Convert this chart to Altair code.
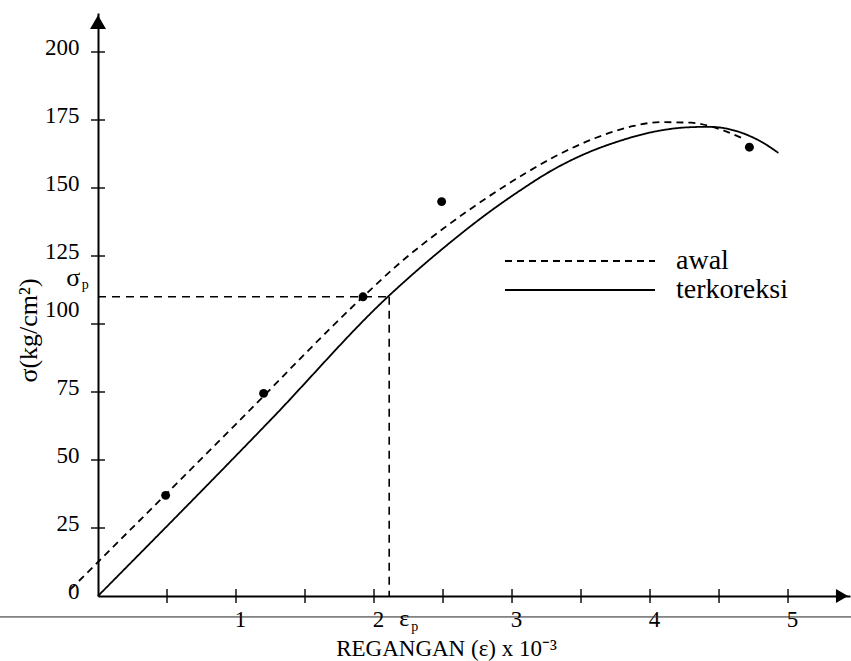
import altair as alt
import pandas as pd

FONT = "Liberation Serif"

# Measured test points: strain (x 10^-3) and stress (kg/cm^2)
point_strain = [0.49, 1.20, 1.92, 2.49, 4.72]
point_stress = [37.0, 74.5, 110.0, 145.0, 165.0]

# Initial stress-strain curve ("awal")
awal_strain = [-0.20, 0.00, 1.00, 1.92, 2.20, 2.50, 2.82, 3.10, 3.30, 3.60,
               3.88, 4.07, 4.30, 4.42, 4.55, 4.67]
awal_stress = [2.4, 12.5, 63.2, 110.0, 123.0, 135.0, 146.5, 155.5, 161.3, 168.3,
               172.8, 174.2, 174.0, 172.9, 170.8, 168.3]

# Corrected stress-strain curve ("terkoreksi")
kor_strain = [0.00, 1.25, 2.10, 2.33, 2.50, 2.82, 3.05, 3.30, 3.54, 3.78,
              4.02, 4.27, 4.43, 4.60, 4.70, 4.82, 4.93]
kor_stress = [0.0, 64.7, 110.0, 120.5, 127.8, 140.6, 148.8, 156.8, 162.8, 167.3,
              170.6, 172.3, 172.5, 171.3, 169.6, 166.6, 162.9]

series_names = ["awal", "terkoreksi"]

# Proportional limit
sigma_p = 110.0
eps_p = 2.11

# Axis ticks and labels
x_tick_values = [0.5, 1.0, 1.5, 2.0, 2.5, 3.0, 3.5, 4.0, 4.5, 5.0]
x_label_values = [1, 2, 3, 4, 5]
y_tick_values = [25, 50, 75, 100, 125, 150, 175, 200]
y_label_values = [0, 25, 50, 75, 100, 125, 150, 175, 200]

# ---------------------------------------------------------------------------
x_scale = alt.Scale(domain=[0, 5.449], nice=False, zero=False)
y_scale = alt.Scale(domain=[0, 214.34], nice=False, zero=False)

x_axis = alt.Axis(
    values=x_label_values, format="d", grid=False, ticks=False, tickSize=0,
    domainColor="black", domainWidth=2, labelFlush=False,
    labelFont=FONT, labelFontSize=23, labelColor="black",
    labelPadding=12, labelOffset=4,
    title="REGANGAN (ε) x 10⁻³", titleFont=FONT, titleFontSize=23,
    titleFontWeight="normal", titleColor="black",
    titleX=348, titleY=59, titleAlign="center", titleBaseline="alphabetic",
)
y_axis = alt.Axis(
    values=y_label_values, format="d", grid=False, ticks=False, tickSize=0,
    domainColor="black", domainWidth=2, labelFlush=False,
    labelFont=FONT, labelFontSize=23, labelColor="black", labelPadding=19,
    labelOffset={"condition": {"test": "datum.value === 100", "value": -15}, "value": -5},
    title="σ(kg/cm²)", titleFont=FONT, titleFontSize=26,
    titleFontWeight="normal", titleColor="black", titleAngle=-90,
    titleX=-62, titleY=317, titleAlign="center", titleBaseline="alphabetic",
)


def X(field):
    return alt.X(field, type="quantitative", scale=x_scale, axis=x_axis)


def Y(field):
    return alt.Y(field, type="quantitative", scale=y_scale, axis=y_axis)


curves = pd.DataFrame({
    "strain": awal_strain + kor_strain,
    "stress": awal_stress + kor_stress,
    "series": [series_names[0]] * len(awal_strain) + [series_names[1]] * len(kor_strain),
})
points = pd.DataFrame({"strain": point_strain, "stress": point_stress})

# stress-strain curves with a dash legend
curve_layer = alt.Chart(curves).mark_line(
    color="black", strokeWidth=1.8, interpolate="monotone"
).encode(
    x=X("strain"),
    y=Y("stress"),
    strokeDash=alt.StrokeDash(
        "series:N",
        scale=alt.Scale(domain=series_names, range=[[7, 5], [1, 0]]),
        legend=alt.Legend(
            title=None, orient="none", legendX=406, legendY=234,
            symbolType="stroke", symbolSize=22500, symbolStrokeWidth=1.8,
            symbolStrokeColor="black", clipHeight=28, rowPadding=1, padding=0,
            labelFont=FONT, labelFontSize=28, labelColor="black", labelOffset=20,
        ),
    ),
)

point_layer = alt.Chart(points).mark_circle(size=80, color="black", opacity=1).encode(
    x=X("strain"), y=Y("stress")
)

# dashed guides to the proportional limit
guides = pd.DataFrame({
    "x": [0.0, eps_p], "x2": [eps_p, eps_p],
    "y": [sigma_p, sigma_p], "y2": [sigma_p, 0.0],
})
guide_layer = alt.Chart(guides).mark_rule(
    color="black", strokeWidth=1.6, strokeDash=[8, 6]
).encode(x=X("x"), x2="x2", y=Y("y"), y2="y2")

# tick marks crossing the axes
x_ticks = pd.DataFrame({"v": x_tick_values, "zero": [0.0] * len(x_tick_values)})
y_ticks = pd.DataFrame({"v": y_tick_values, "zero": [0.0] * len(y_tick_values)})
x_tick_layer = alt.Chart(x_ticks).mark_tick(
    orient="vertical", size=14, thickness=1.4, color="black", opacity=1
).encode(x=X("v"), y=Y("zero"))
y_tick_layer = alt.Chart(y_ticks).mark_tick(
    orient="horizontal", size=14, thickness=1.4, color="black", opacity=1
).encode(x=X("zero"), y=Y("v"))

# arrow heads at the ends of the axes
arrows = pd.DataFrame({
    "x": [0.0, 5.391], "y": [211.0, 0.0],
    "shape": ["triangle-up", "triangle-right"], "sz": [256, 196],
})
arrow_layer = alt.Chart(arrows).mark_point(filled=True, color="black", opacity=1).encode(
    x=X("x"), y=Y("y"),
    shape=alt.Shape("shape:N", scale=None),
    size=alt.Size("sz:Q", scale=None),
)

# sigma_p / eps_p labels
symbols = pd.DataFrame({"x": [-0.18, 2.22], "y": [117.0, -8.4], "t": ["σ", "ε"],
                        "fs": [26, 24]})
subs = pd.DataFrame({"x": [-0.092, 2.295], "y": [114.3, -11.5], "t": ["p", "p"]})
symbol_layer = alt.Chart(symbols).mark_text(
    font=FONT, color="black", align="center", baseline="middle"
).encode(x=X("x"), y=Y("y"), text="t:N", size=alt.Size("fs:Q", scale=None))
sub_layer = alt.Chart(subs).mark_text(
    font=FONT, fontSize=14, color="black", align="center", baseline="middle"
).encode(x=X("x"), y=Y("y"), text="t:N")

# thin horizontal line running across the sheet under the axis
edge = pd.DataFrame({"y": [-7.7]})
edge_layer = alt.Chart(edge).mark_rule(color="#222222", strokeWidth=1).encode(
    x=alt.value(-98), x2=alt.value(753), y=Y("y")
)

chart = alt.layer(
    edge_layer, guide_layer, curve_layer, point_layer,
    x_tick_layer, y_tick_layer, arrow_layer, symbol_layer, sub_layer,
).properties(
    width=752, height=583,
    padding={"left": 98, "top": 13, "right": 1, "bottom": 65},
    autosize=alt.AutoSizeParams(type="none"),
    background="white",
).configure_view(stroke=None)

chart.save("out.html", embed_options={"renderer": "svg", "actions": False})
